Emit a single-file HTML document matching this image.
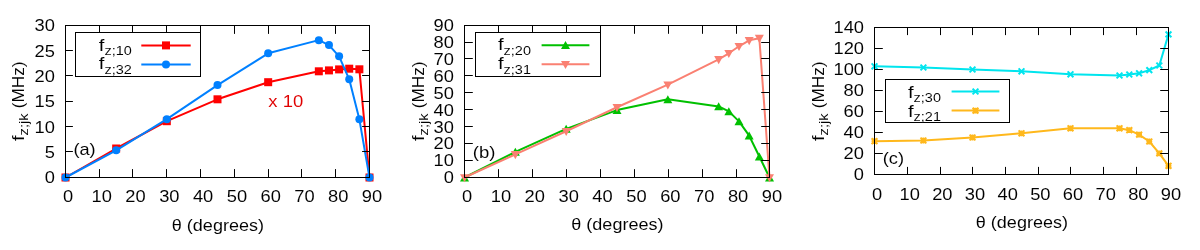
<!DOCTYPE html>
<html><head><meta charset="utf-8"><title>f_z,jk vs theta</title>
<style>
html,body{margin:0;padding:0;background:#fff;}
body{width:1200px;height:250px;overflow:hidden;}
svg{display:block;font-family:"Liberation Sans", sans-serif;will-change:transform;}
text{stroke:#fff;stroke-width:0.05px;}
</style></head>
<body>
<svg width="1200" height="250" viewBox="0 0 1200 250">
<rect width="1200" height="250" fill="#fff"/>
<text x="68.00" y="201.80" font-size="17.0" text-anchor="middle" textLength="10.18" lengthAdjust="spacingAndGlyphs" fill="#000">0</text>
<text x="101.78" y="201.80" font-size="17.0" text-anchor="middle" textLength="20.36" lengthAdjust="spacingAndGlyphs" fill="#000">10</text>
<text x="135.56" y="201.80" font-size="17.0" text-anchor="middle" textLength="20.36" lengthAdjust="spacingAndGlyphs" fill="#000">20</text>
<text x="169.33" y="201.80" font-size="17.0" text-anchor="middle" textLength="20.36" lengthAdjust="spacingAndGlyphs" fill="#000">30</text>
<text x="203.11" y="201.80" font-size="17.0" text-anchor="middle" textLength="20.36" lengthAdjust="spacingAndGlyphs" fill="#000">40</text>
<text x="236.89" y="201.80" font-size="17.0" text-anchor="middle" textLength="20.36" lengthAdjust="spacingAndGlyphs" fill="#000">50</text>
<text x="270.67" y="201.80" font-size="17.0" text-anchor="middle" textLength="20.36" lengthAdjust="spacingAndGlyphs" fill="#000">60</text>
<text x="304.44" y="201.80" font-size="17.0" text-anchor="middle" textLength="20.36" lengthAdjust="spacingAndGlyphs" fill="#000">70</text>
<text x="338.22" y="201.80" font-size="17.0" text-anchor="middle" textLength="20.36" lengthAdjust="spacingAndGlyphs" fill="#000">80</text>
<text x="372.00" y="201.80" font-size="17.0" text-anchor="middle" textLength="20.36" lengthAdjust="spacingAndGlyphs" fill="#000">90</text>
<text x="55.00" y="183.20" font-size="17.0" text-anchor="end" textLength="10.18" lengthAdjust="spacingAndGlyphs" fill="#000">0</text>
<text x="55.00" y="157.87" font-size="17.0" text-anchor="end" textLength="10.18" lengthAdjust="spacingAndGlyphs" fill="#000">5</text>
<text x="55.00" y="132.53" font-size="17.0" text-anchor="end" textLength="20.36" lengthAdjust="spacingAndGlyphs" fill="#000">10</text>
<text x="55.00" y="107.20" font-size="17.0" text-anchor="end" textLength="20.36" lengthAdjust="spacingAndGlyphs" fill="#000">15</text>
<text x="55.00" y="81.87" font-size="17.0" text-anchor="end" textLength="20.36" lengthAdjust="spacingAndGlyphs" fill="#000">20</text>
<text x="55.00" y="56.53" font-size="17.0" text-anchor="end" textLength="20.36" lengthAdjust="spacingAndGlyphs" fill="#000">25</text>
<text x="55.00" y="31.20" font-size="17.0" text-anchor="end" textLength="20.36" lengthAdjust="spacingAndGlyphs" fill="#000">30</text>
<text x="217.90" y="230.50" font-size="17.0" text-anchor="middle" textLength="92.12" lengthAdjust="spacingAndGlyphs" fill="#000">θ (degrees)</text>
<g transform="translate(23.6,141.0) rotate(-90)">
<text x="0.00" y="0.00" font-size="17.0" text-anchor="start" textLength="5.63" lengthAdjust="spacingAndGlyphs" fill="#000">f</text>
<text x="5.63" y="4.50" font-size="13.600000000000001" text-anchor="start" textLength="22.00" lengthAdjust="spacingAndGlyphs" fill="#000">z;jk</text>
<text x="32.72" y="0.00" font-size="17.0" text-anchor="start" textLength="46.72" lengthAdjust="spacingAndGlyphs" fill="#000">(MHz)</text>
</g>
<text x="73.40" y="154.90" font-size="17.0" text-anchor="start" textLength="22.29" lengthAdjust="spacingAndGlyphs" fill="#000">(a)</text>
<text x="467.00" y="201.80" font-size="17.0" text-anchor="middle" textLength="10.18" lengthAdjust="spacingAndGlyphs" fill="#000">0</text>
<text x="500.89" y="201.80" font-size="17.0" text-anchor="middle" textLength="20.36" lengthAdjust="spacingAndGlyphs" fill="#000">10</text>
<text x="534.78" y="201.80" font-size="17.0" text-anchor="middle" textLength="20.36" lengthAdjust="spacingAndGlyphs" fill="#000">20</text>
<text x="568.67" y="201.80" font-size="17.0" text-anchor="middle" textLength="20.36" lengthAdjust="spacingAndGlyphs" fill="#000">30</text>
<text x="602.56" y="201.80" font-size="17.0" text-anchor="middle" textLength="20.36" lengthAdjust="spacingAndGlyphs" fill="#000">40</text>
<text x="636.44" y="201.80" font-size="17.0" text-anchor="middle" textLength="20.36" lengthAdjust="spacingAndGlyphs" fill="#000">50</text>
<text x="670.33" y="201.80" font-size="17.0" text-anchor="middle" textLength="20.36" lengthAdjust="spacingAndGlyphs" fill="#000">60</text>
<text x="704.22" y="201.80" font-size="17.0" text-anchor="middle" textLength="20.36" lengthAdjust="spacingAndGlyphs" fill="#000">70</text>
<text x="738.11" y="201.80" font-size="17.0" text-anchor="middle" textLength="20.36" lengthAdjust="spacingAndGlyphs" fill="#000">80</text>
<text x="772.00" y="201.80" font-size="17.0" text-anchor="middle" textLength="20.36" lengthAdjust="spacingAndGlyphs" fill="#000">90</text>
<text x="454.00" y="183.20" font-size="17.0" text-anchor="end" textLength="10.18" lengthAdjust="spacingAndGlyphs" fill="#000">0</text>
<text x="454.00" y="166.31" font-size="17.0" text-anchor="end" textLength="20.36" lengthAdjust="spacingAndGlyphs" fill="#000">10</text>
<text x="454.00" y="149.42" font-size="17.0" text-anchor="end" textLength="20.36" lengthAdjust="spacingAndGlyphs" fill="#000">20</text>
<text x="454.00" y="132.53" font-size="17.0" text-anchor="end" textLength="20.36" lengthAdjust="spacingAndGlyphs" fill="#000">30</text>
<text x="454.00" y="115.64" font-size="17.0" text-anchor="end" textLength="20.36" lengthAdjust="spacingAndGlyphs" fill="#000">40</text>
<text x="454.00" y="98.76" font-size="17.0" text-anchor="end" textLength="20.36" lengthAdjust="spacingAndGlyphs" fill="#000">50</text>
<text x="454.00" y="81.87" font-size="17.0" text-anchor="end" textLength="20.36" lengthAdjust="spacingAndGlyphs" fill="#000">60</text>
<text x="454.00" y="64.98" font-size="17.0" text-anchor="end" textLength="20.36" lengthAdjust="spacingAndGlyphs" fill="#000">70</text>
<text x="454.00" y="48.09" font-size="17.0" text-anchor="end" textLength="20.36" lengthAdjust="spacingAndGlyphs" fill="#000">80</text>
<text x="454.00" y="31.20" font-size="17.0" text-anchor="end" textLength="20.36" lengthAdjust="spacingAndGlyphs" fill="#000">90</text>
<text x="617.40" y="230.40" font-size="17.0" text-anchor="middle" textLength="92.12" lengthAdjust="spacingAndGlyphs" fill="#000">θ (degrees)</text>
<g transform="translate(423.6,141.0) rotate(-90)">
<text x="0.00" y="0.00" font-size="17.0" text-anchor="start" textLength="5.63" lengthAdjust="spacingAndGlyphs" fill="#000">f</text>
<text x="5.63" y="4.50" font-size="13.600000000000001" text-anchor="start" textLength="22.00" lengthAdjust="spacingAndGlyphs" fill="#000">z;jk</text>
<text x="32.72" y="0.00" font-size="17.0" text-anchor="start" textLength="46.72" lengthAdjust="spacingAndGlyphs" fill="#000">(MHz)</text>
</g>
<text x="472.80" y="158.00" font-size="17.0" text-anchor="start" textLength="22.64" lengthAdjust="spacingAndGlyphs" fill="#000">(b)</text>
<text x="877.00" y="199.60" font-size="17.0" text-anchor="middle" textLength="10.18" lengthAdjust="spacingAndGlyphs" fill="#000">0</text>
<text x="909.67" y="199.60" font-size="17.0" text-anchor="middle" textLength="20.36" lengthAdjust="spacingAndGlyphs" fill="#000">10</text>
<text x="942.33" y="199.60" font-size="17.0" text-anchor="middle" textLength="20.36" lengthAdjust="spacingAndGlyphs" fill="#000">20</text>
<text x="975.00" y="199.60" font-size="17.0" text-anchor="middle" textLength="20.36" lengthAdjust="spacingAndGlyphs" fill="#000">30</text>
<text x="1007.67" y="199.60" font-size="17.0" text-anchor="middle" textLength="20.36" lengthAdjust="spacingAndGlyphs" fill="#000">40</text>
<text x="1040.33" y="199.60" font-size="17.0" text-anchor="middle" textLength="20.36" lengthAdjust="spacingAndGlyphs" fill="#000">50</text>
<text x="1073.00" y="199.60" font-size="17.0" text-anchor="middle" textLength="20.36" lengthAdjust="spacingAndGlyphs" fill="#000">60</text>
<text x="1105.67" y="199.60" font-size="17.0" text-anchor="middle" textLength="20.36" lengthAdjust="spacingAndGlyphs" fill="#000">70</text>
<text x="1138.33" y="199.60" font-size="17.0" text-anchor="middle" textLength="20.36" lengthAdjust="spacingAndGlyphs" fill="#000">80</text>
<text x="1171.00" y="199.60" font-size="17.0" text-anchor="middle" textLength="20.36" lengthAdjust="spacingAndGlyphs" fill="#000">90</text>
<text x="864.00" y="180.20" font-size="17.0" text-anchor="end" textLength="10.18" lengthAdjust="spacingAndGlyphs" fill="#000">0</text>
<text x="864.00" y="159.20" font-size="17.0" text-anchor="end" textLength="20.36" lengthAdjust="spacingAndGlyphs" fill="#000">20</text>
<text x="864.00" y="138.20" font-size="17.0" text-anchor="end" textLength="20.36" lengthAdjust="spacingAndGlyphs" fill="#000">40</text>
<text x="864.00" y="117.20" font-size="17.0" text-anchor="end" textLength="20.36" lengthAdjust="spacingAndGlyphs" fill="#000">60</text>
<text x="864.00" y="96.20" font-size="17.0" text-anchor="end" textLength="20.36" lengthAdjust="spacingAndGlyphs" fill="#000">80</text>
<text x="864.00" y="75.20" font-size="17.0" text-anchor="end" textLength="30.54" lengthAdjust="spacingAndGlyphs" fill="#000">100</text>
<text x="864.00" y="54.20" font-size="17.0" text-anchor="end" textLength="30.54" lengthAdjust="spacingAndGlyphs" fill="#000">120</text>
<text x="864.00" y="33.20" font-size="17.0" text-anchor="end" textLength="30.54" lengthAdjust="spacingAndGlyphs" fill="#000">140</text>
<text x="1021.90" y="227.60" font-size="17.0" text-anchor="middle" textLength="92.12" lengthAdjust="spacingAndGlyphs" fill="#000">θ (degrees)</text>
<g transform="translate(823.6,141.0) rotate(-90)">
<text x="0.00" y="0.00" font-size="17.0" text-anchor="start" textLength="5.63" lengthAdjust="spacingAndGlyphs" fill="#000">f</text>
<text x="5.63" y="4.50" font-size="13.600000000000001" text-anchor="start" textLength="22.00" lengthAdjust="spacingAndGlyphs" fill="#000">z;jk</text>
<text x="32.72" y="0.00" font-size="17.0" text-anchor="start" textLength="46.72" lengthAdjust="spacingAndGlyphs" fill="#000">(MHz)</text>
</g>
<text x="882.70" y="164.20" font-size="17.0" text-anchor="start" textLength="21.28" lengthAdjust="spacingAndGlyphs" fill="#000">(c)</text>
<polyline points="65.50,177.50 116.17,148.50 166.83,121.20 217.50,99.30 268.17,82.20 318.83,71.30 328.97,70.40 339.10,69.40 349.23,68.70 359.37,69.30 369.50,177.50" fill="none" stroke="#ff0000" stroke-width="2" stroke-linejoin="round"/>
<rect x="61.50" y="173.50" width="8" height="8" fill="#ff0000"/>
<rect x="112.17" y="144.50" width="8" height="8" fill="#ff0000"/>
<rect x="162.83" y="117.20" width="8" height="8" fill="#ff0000"/>
<rect x="213.50" y="95.30" width="8" height="8" fill="#ff0000"/>
<rect x="264.17" y="78.20" width="8" height="8" fill="#ff0000"/>
<rect x="314.83" y="67.30" width="8" height="8" fill="#ff0000"/>
<rect x="324.97" y="66.40" width="8" height="8" fill="#ff0000"/>
<rect x="335.10" y="65.40" width="8" height="8" fill="#ff0000"/>
<rect x="345.23" y="64.70" width="8" height="8" fill="#ff0000"/>
<rect x="355.37" y="65.30" width="8" height="8" fill="#ff0000"/>
<rect x="365.50" y="173.50" width="8" height="8" fill="#ff0000"/>
<polyline points="65.50,177.50 116.17,150.30 166.83,119.20 217.50,85.10 268.17,53.30 318.83,40.15 328.97,45.06 339.10,56.30 349.23,79.30 359.37,119.30 369.50,177.50" fill="none" stroke="#0080ff" stroke-width="2" stroke-linejoin="round"/>
<circle cx="65.50" cy="177.50" r="4" fill="#0080ff"/>
<circle cx="116.17" cy="150.30" r="4" fill="#0080ff"/>
<circle cx="166.83" cy="119.20" r="4" fill="#0080ff"/>
<circle cx="217.50" cy="85.10" r="4" fill="#0080ff"/>
<circle cx="268.17" cy="53.30" r="4" fill="#0080ff"/>
<circle cx="318.83" cy="40.15" r="4" fill="#0080ff"/>
<circle cx="328.97" cy="45.06" r="4" fill="#0080ff"/>
<circle cx="339.10" cy="56.30" r="4" fill="#0080ff"/>
<circle cx="349.23" cy="79.30" r="4" fill="#0080ff"/>
<circle cx="359.37" cy="119.30" r="4" fill="#0080ff"/>
<circle cx="369.50" cy="177.50" r="4" fill="#0080ff"/>
<polyline points="464.50,177.50 515.33,151.90 566.17,128.85 617.00,110.10 667.83,99.30 718.67,106.45 728.83,111.35 739.00,121.35 749.17,135.70 759.33,156.50 769.50,177.50" fill="none" stroke="#00c000" stroke-width="2" stroke-linejoin="round"/>
<path d="M464.50,173.40 L469.00,181.40 L460.00,181.40 Z" fill="#00c000"/>
<path d="M515.33,147.80 L519.83,155.80 L510.83,155.80 Z" fill="#00c000"/>
<path d="M566.17,124.75 L570.67,132.75 L561.67,132.75 Z" fill="#00c000"/>
<path d="M617.00,106.00 L621.50,114.00 L612.50,114.00 Z" fill="#00c000"/>
<path d="M667.83,95.20 L672.33,103.20 L663.33,103.20 Z" fill="#00c000"/>
<path d="M718.67,102.35 L723.17,110.35 L714.17,110.35 Z" fill="#00c000"/>
<path d="M728.83,107.25 L733.33,115.25 L724.33,115.25 Z" fill="#00c000"/>
<path d="M739.00,117.25 L743.50,125.25 L734.50,125.25 Z" fill="#00c000"/>
<path d="M749.17,131.60 L753.67,139.60 L744.67,139.60 Z" fill="#00c000"/>
<path d="M759.33,152.40 L763.83,160.40 L754.83,160.40 Z" fill="#00c000"/>
<path d="M769.50,173.40 L774.00,181.40 L765.00,181.40 Z" fill="#00c000"/>
<polyline points="464.50,177.50 515.33,154.35 566.17,131.25 617.00,107.25 667.83,84.70 718.67,59.40 728.83,53.30 739.00,46.30 749.17,40.35 759.33,38.15 769.50,177.50" fill="none" stroke="#fa8072" stroke-width="2" stroke-linejoin="round"/>
<path d="M464.50,182.30 L469.00,174.20 L460.00,174.20 Z" fill="#fa8072"/>
<path d="M515.33,159.15 L519.83,151.05 L510.83,151.05 Z" fill="#fa8072"/>
<path d="M566.17,136.05 L570.67,127.95 L561.67,127.95 Z" fill="#fa8072"/>
<path d="M617.00,112.05 L621.50,103.95 L612.50,103.95 Z" fill="#fa8072"/>
<path d="M667.83,89.50 L672.33,81.40 L663.33,81.40 Z" fill="#fa8072"/>
<path d="M718.67,64.20 L723.17,56.10 L714.17,56.10 Z" fill="#fa8072"/>
<path d="M728.83,58.10 L733.33,50.00 L724.33,50.00 Z" fill="#fa8072"/>
<path d="M739.00,51.10 L743.50,43.00 L734.50,43.00 Z" fill="#fa8072"/>
<path d="M749.17,45.15 L753.67,37.05 L744.67,37.05 Z" fill="#fa8072"/>
<path d="M759.33,42.95 L763.83,34.85 L754.83,34.85 Z" fill="#fa8072"/>
<path d="M769.50,182.30 L774.00,174.20 L765.00,174.20 Z" fill="#fa8072"/>
<polyline points="874.50,66.30 923.40,67.50 972.50,69.50 1021.50,71.30 1070.50,74.30 1119.50,75.50 1129.30,74.50 1139.10,73.30 1149.30,70.10 1159.30,65.50 1168.50,34.40" fill="none" stroke="#00e5ee" stroke-width="2" stroke-linejoin="round"/>
<path d="M871.60,63.40 L877.40,69.20 M871.60,69.20 L877.40,63.40" stroke="#00e5ee" stroke-width="2" fill="none"/>
<path d="M920.50,64.60 L926.30,70.40 M920.50,70.40 L926.30,64.60" stroke="#00e5ee" stroke-width="2" fill="none"/>
<path d="M969.60,66.60 L975.40,72.40 M969.60,72.40 L975.40,66.60" stroke="#00e5ee" stroke-width="2" fill="none"/>
<path d="M1018.60,68.40 L1024.40,74.20 M1018.60,74.20 L1024.40,68.40" stroke="#00e5ee" stroke-width="2" fill="none"/>
<path d="M1067.60,71.40 L1073.40,77.20 M1067.60,77.20 L1073.40,71.40" stroke="#00e5ee" stroke-width="2" fill="none"/>
<path d="M1116.60,72.60 L1122.40,78.40 M1116.60,78.40 L1122.40,72.60" stroke="#00e5ee" stroke-width="2" fill="none"/>
<path d="M1126.40,71.60 L1132.20,77.40 M1126.40,77.40 L1132.20,71.60" stroke="#00e5ee" stroke-width="2" fill="none"/>
<path d="M1136.20,70.40 L1142.00,76.20 M1136.20,76.20 L1142.00,70.40" stroke="#00e5ee" stroke-width="2" fill="none"/>
<path d="M1146.40,67.20 L1152.20,73.00 M1146.40,73.00 L1152.20,67.20" stroke="#00e5ee" stroke-width="2" fill="none"/>
<path d="M1156.40,62.60 L1162.20,68.40 M1156.40,68.40 L1162.20,62.60" stroke="#00e5ee" stroke-width="2" fill="none"/>
<path d="M1165.60,31.50 L1171.40,37.30 M1165.60,37.30 L1171.40,31.50" stroke="#00e5ee" stroke-width="2" fill="none"/>
<polyline points="874.50,141.20 923.40,140.50 972.50,137.50 1021.50,133.30 1070.50,128.30 1119.50,128.30 1129.30,130.20 1139.10,134.60 1149.30,141.50 1159.30,153.40 1168.50,165.80" fill="none" stroke="#ffb81c" stroke-width="2" stroke-linejoin="round"/>
<path d="M871.60,138.30 L877.40,144.10 M871.60,144.10 L877.40,138.30 M871.60,141.20 L877.40,141.20 M874.50,138.30 L874.50,144.10" stroke="#ffb81c" stroke-width="2" fill="none"/>
<path d="M920.50,137.60 L926.30,143.40 M920.50,143.40 L926.30,137.60 M920.50,140.50 L926.30,140.50 M923.40,137.60 L923.40,143.40" stroke="#ffb81c" stroke-width="2" fill="none"/>
<path d="M969.60,134.60 L975.40,140.40 M969.60,140.40 L975.40,134.60 M969.60,137.50 L975.40,137.50 M972.50,134.60 L972.50,140.40" stroke="#ffb81c" stroke-width="2" fill="none"/>
<path d="M1018.60,130.40 L1024.40,136.20 M1018.60,136.20 L1024.40,130.40 M1018.60,133.30 L1024.40,133.30 M1021.50,130.40 L1021.50,136.20" stroke="#ffb81c" stroke-width="2" fill="none"/>
<path d="M1067.60,125.40 L1073.40,131.20 M1067.60,131.20 L1073.40,125.40 M1067.60,128.30 L1073.40,128.30 M1070.50,125.40 L1070.50,131.20" stroke="#ffb81c" stroke-width="2" fill="none"/>
<path d="M1116.60,125.40 L1122.40,131.20 M1116.60,131.20 L1122.40,125.40 M1116.60,128.30 L1122.40,128.30 M1119.50,125.40 L1119.50,131.20" stroke="#ffb81c" stroke-width="2" fill="none"/>
<path d="M1126.40,127.30 L1132.20,133.10 M1126.40,133.10 L1132.20,127.30 M1126.40,130.20 L1132.20,130.20 M1129.30,127.30 L1129.30,133.10" stroke="#ffb81c" stroke-width="2" fill="none"/>
<path d="M1136.20,131.70 L1142.00,137.50 M1136.20,137.50 L1142.00,131.70 M1136.20,134.60 L1142.00,134.60 M1139.10,131.70 L1139.10,137.50" stroke="#ffb81c" stroke-width="2" fill="none"/>
<path d="M1146.40,138.60 L1152.20,144.40 M1146.40,144.40 L1152.20,138.60 M1146.40,141.50 L1152.20,141.50 M1149.30,138.60 L1149.30,144.40" stroke="#ffb81c" stroke-width="2" fill="none"/>
<path d="M1156.40,150.50 L1162.20,156.30 M1156.40,156.30 L1162.20,150.50 M1156.40,153.40 L1162.20,153.40 M1159.30,150.50 L1159.30,156.30" stroke="#ffb81c" stroke-width="2" fill="none"/>
<path d="M1165.60,162.90 L1171.40,168.70 M1165.60,168.70 L1171.40,162.90 M1165.60,165.80 L1171.40,165.80 M1168.50,162.90 L1168.50,168.70" stroke="#ffb81c" stroke-width="2" fill="none"/>
<text x="268.30" y="106.50" font-size="17.0" text-anchor="start" textLength="34.91" lengthAdjust="spacingAndGlyphs" fill="#e00000">x 10</text>
<line x1="99.50" y1="177.50" x2="99.50" y2="169.10" stroke="#000" stroke-width="1"/>
<line x1="99.50" y1="25.50" x2="99.50" y2="33.90" stroke="#000" stroke-width="1"/>
<line x1="132.50" y1="177.50" x2="132.50" y2="169.10" stroke="#000" stroke-width="1"/>
<line x1="132.50" y1="25.50" x2="132.50" y2="33.90" stroke="#000" stroke-width="1"/>
<line x1="166.50" y1="177.50" x2="166.50" y2="169.10" stroke="#000" stroke-width="1"/>
<line x1="166.50" y1="25.50" x2="166.50" y2="33.90" stroke="#000" stroke-width="1"/>
<line x1="200.50" y1="177.50" x2="200.50" y2="169.10" stroke="#000" stroke-width="1"/>
<line x1="200.50" y1="25.50" x2="200.50" y2="33.90" stroke="#000" stroke-width="1"/>
<line x1="234.50" y1="177.50" x2="234.50" y2="169.10" stroke="#000" stroke-width="1"/>
<line x1="234.50" y1="25.50" x2="234.50" y2="33.90" stroke="#000" stroke-width="1"/>
<line x1="268.50" y1="177.50" x2="268.50" y2="169.10" stroke="#000" stroke-width="1"/>
<line x1="268.50" y1="25.50" x2="268.50" y2="33.90" stroke="#000" stroke-width="1"/>
<line x1="301.50" y1="177.50" x2="301.50" y2="169.10" stroke="#000" stroke-width="1"/>
<line x1="301.50" y1="25.50" x2="301.50" y2="33.90" stroke="#000" stroke-width="1"/>
<line x1="335.50" y1="177.50" x2="335.50" y2="169.10" stroke="#000" stroke-width="1"/>
<line x1="335.50" y1="25.50" x2="335.50" y2="33.90" stroke="#000" stroke-width="1"/>
<line x1="65.50" y1="151.50" x2="72.90" y2="151.50" stroke="#000" stroke-width="1"/>
<line x1="369.50" y1="151.50" x2="362.10" y2="151.50" stroke="#000" stroke-width="1"/>
<line x1="65.50" y1="126.50" x2="72.90" y2="126.50" stroke="#000" stroke-width="1"/>
<line x1="369.50" y1="126.50" x2="362.10" y2="126.50" stroke="#000" stroke-width="1"/>
<line x1="65.50" y1="101.50" x2="72.90" y2="101.50" stroke="#000" stroke-width="1"/>
<line x1="369.50" y1="101.50" x2="362.10" y2="101.50" stroke="#000" stroke-width="1"/>
<line x1="65.50" y1="75.50" x2="72.90" y2="75.50" stroke="#000" stroke-width="1"/>
<line x1="369.50" y1="75.50" x2="362.10" y2="75.50" stroke="#000" stroke-width="1"/>
<line x1="65.50" y1="50.50" x2="72.90" y2="50.50" stroke="#000" stroke-width="1"/>
<line x1="369.50" y1="50.50" x2="362.10" y2="50.50" stroke="#000" stroke-width="1"/>
<rect x="65.5" y="25.5" width="304.0" height="152.0" fill="none" stroke="#000" stroke-width="1"/>
<line x1="498.50" y1="177.50" x2="498.50" y2="169.20" stroke="#000" stroke-width="1"/>
<line x1="498.50" y1="25.50" x2="498.50" y2="33.80" stroke="#000" stroke-width="1"/>
<line x1="532.50" y1="177.50" x2="532.50" y2="169.20" stroke="#000" stroke-width="1"/>
<line x1="532.50" y1="25.50" x2="532.50" y2="33.80" stroke="#000" stroke-width="1"/>
<line x1="566.50" y1="177.50" x2="566.50" y2="169.20" stroke="#000" stroke-width="1"/>
<line x1="566.50" y1="25.50" x2="566.50" y2="33.80" stroke="#000" stroke-width="1"/>
<line x1="600.50" y1="177.50" x2="600.50" y2="169.20" stroke="#000" stroke-width="1"/>
<line x1="600.50" y1="25.50" x2="600.50" y2="33.80" stroke="#000" stroke-width="1"/>
<line x1="634.50" y1="177.50" x2="634.50" y2="169.20" stroke="#000" stroke-width="1"/>
<line x1="634.50" y1="25.50" x2="634.50" y2="33.80" stroke="#000" stroke-width="1"/>
<line x1="668.50" y1="177.50" x2="668.50" y2="169.20" stroke="#000" stroke-width="1"/>
<line x1="668.50" y1="25.50" x2="668.50" y2="33.80" stroke="#000" stroke-width="1"/>
<line x1="702.50" y1="177.50" x2="702.50" y2="169.20" stroke="#000" stroke-width="1"/>
<line x1="702.50" y1="25.50" x2="702.50" y2="33.80" stroke="#000" stroke-width="1"/>
<line x1="736.50" y1="177.50" x2="736.50" y2="169.20" stroke="#000" stroke-width="1"/>
<line x1="736.50" y1="25.50" x2="736.50" y2="33.80" stroke="#000" stroke-width="1"/>
<line x1="464.50" y1="160.50" x2="472.80" y2="160.50" stroke="#000" stroke-width="1"/>
<line x1="769.50" y1="160.50" x2="761.20" y2="160.50" stroke="#000" stroke-width="1"/>
<line x1="464.50" y1="143.50" x2="472.80" y2="143.50" stroke="#000" stroke-width="1"/>
<line x1="769.50" y1="143.50" x2="761.20" y2="143.50" stroke="#000" stroke-width="1"/>
<line x1="464.50" y1="126.50" x2="472.80" y2="126.50" stroke="#000" stroke-width="1"/>
<line x1="769.50" y1="126.50" x2="761.20" y2="126.50" stroke="#000" stroke-width="1"/>
<line x1="464.50" y1="109.50" x2="472.80" y2="109.50" stroke="#000" stroke-width="1"/>
<line x1="769.50" y1="109.50" x2="761.20" y2="109.50" stroke="#000" stroke-width="1"/>
<line x1="464.50" y1="92.50" x2="472.80" y2="92.50" stroke="#000" stroke-width="1"/>
<line x1="769.50" y1="92.50" x2="761.20" y2="92.50" stroke="#000" stroke-width="1"/>
<line x1="464.50" y1="75.50" x2="472.80" y2="75.50" stroke="#000" stroke-width="1"/>
<line x1="769.50" y1="75.50" x2="761.20" y2="75.50" stroke="#000" stroke-width="1"/>
<line x1="464.50" y1="58.50" x2="472.80" y2="58.50" stroke="#000" stroke-width="1"/>
<line x1="769.50" y1="58.50" x2="761.20" y2="58.50" stroke="#000" stroke-width="1"/>
<line x1="464.50" y1="42.50" x2="472.80" y2="42.50" stroke="#000" stroke-width="1"/>
<line x1="769.50" y1="42.50" x2="761.20" y2="42.50" stroke="#000" stroke-width="1"/>
<rect x="464.5" y="25.5" width="305.0" height="152.0" fill="none" stroke="#000" stroke-width="1"/>
<line x1="907.50" y1="174.50" x2="907.50" y2="166.90" stroke="#000" stroke-width="1"/>
<line x1="907.50" y1="27.50" x2="907.50" y2="35.10" stroke="#000" stroke-width="1"/>
<line x1="940.50" y1="174.50" x2="940.50" y2="166.90" stroke="#000" stroke-width="1"/>
<line x1="940.50" y1="27.50" x2="940.50" y2="35.10" stroke="#000" stroke-width="1"/>
<line x1="972.50" y1="174.50" x2="972.50" y2="166.90" stroke="#000" stroke-width="1"/>
<line x1="972.50" y1="27.50" x2="972.50" y2="35.10" stroke="#000" stroke-width="1"/>
<line x1="1005.50" y1="174.50" x2="1005.50" y2="166.90" stroke="#000" stroke-width="1"/>
<line x1="1005.50" y1="27.50" x2="1005.50" y2="35.10" stroke="#000" stroke-width="1"/>
<line x1="1038.50" y1="174.50" x2="1038.50" y2="166.90" stroke="#000" stroke-width="1"/>
<line x1="1038.50" y1="27.50" x2="1038.50" y2="35.10" stroke="#000" stroke-width="1"/>
<line x1="1070.50" y1="174.50" x2="1070.50" y2="166.90" stroke="#000" stroke-width="1"/>
<line x1="1070.50" y1="27.50" x2="1070.50" y2="35.10" stroke="#000" stroke-width="1"/>
<line x1="1103.50" y1="174.50" x2="1103.50" y2="166.90" stroke="#000" stroke-width="1"/>
<line x1="1103.50" y1="27.50" x2="1103.50" y2="35.10" stroke="#000" stroke-width="1"/>
<line x1="1136.50" y1="174.50" x2="1136.50" y2="166.90" stroke="#000" stroke-width="1"/>
<line x1="1136.50" y1="27.50" x2="1136.50" y2="35.10" stroke="#000" stroke-width="1"/>
<line x1="874.50" y1="153.50" x2="882.80" y2="153.50" stroke="#000" stroke-width="1"/>
<line x1="1168.50" y1="153.50" x2="1160.20" y2="153.50" stroke="#000" stroke-width="1"/>
<line x1="874.50" y1="132.50" x2="882.80" y2="132.50" stroke="#000" stroke-width="1"/>
<line x1="1168.50" y1="132.50" x2="1160.20" y2="132.50" stroke="#000" stroke-width="1"/>
<line x1="874.50" y1="111.50" x2="882.80" y2="111.50" stroke="#000" stroke-width="1"/>
<line x1="1168.50" y1="111.50" x2="1160.20" y2="111.50" stroke="#000" stroke-width="1"/>
<line x1="874.50" y1="90.50" x2="882.80" y2="90.50" stroke="#000" stroke-width="1"/>
<line x1="1168.50" y1="90.50" x2="1160.20" y2="90.50" stroke="#000" stroke-width="1"/>
<line x1="874.50" y1="69.50" x2="882.80" y2="69.50" stroke="#000" stroke-width="1"/>
<line x1="1168.50" y1="69.50" x2="1160.20" y2="69.50" stroke="#000" stroke-width="1"/>
<line x1="874.50" y1="48.50" x2="882.80" y2="48.50" stroke="#000" stroke-width="1"/>
<line x1="1168.50" y1="48.50" x2="1160.20" y2="48.50" stroke="#000" stroke-width="1"/>
<rect x="874.5" y="27.5" width="294.0" height="147.0" fill="none" stroke="#000" stroke-width="1"/>
<rect x="75.5" y="32.5" width="125.0" height="44.0" fill="#fff" stroke="#000" stroke-width="1"/>
<text x="98.80" y="50.50" font-size="17.0" text-anchor="start" textLength="5.63" lengthAdjust="spacingAndGlyphs" fill="#000">f</text>
<text x="104.43" y="55.00" font-size="13.600000000000001" text-anchor="start" textLength="27.32" lengthAdjust="spacingAndGlyphs" fill="#000">z;10</text>
<text x="98.80" y="69.40" font-size="17.0" text-anchor="start" textLength="5.63" lengthAdjust="spacingAndGlyphs" fill="#000">f</text>
<text x="104.43" y="73.90" font-size="13.600000000000001" text-anchor="start" textLength="27.32" lengthAdjust="spacingAndGlyphs" fill="#000">z;32</text>
<rect x="475.5" y="32.5" width="125.0" height="44.0" fill="#fff" stroke="#000" stroke-width="1"/>
<text x="498.00" y="50.40" font-size="17.0" text-anchor="start" textLength="5.63" lengthAdjust="spacingAndGlyphs" fill="#000">f</text>
<text x="503.63" y="54.90" font-size="13.600000000000001" text-anchor="start" textLength="27.32" lengthAdjust="spacingAndGlyphs" fill="#000">z;20</text>
<text x="498.00" y="69.40" font-size="17.0" text-anchor="start" textLength="5.63" lengthAdjust="spacingAndGlyphs" fill="#000">f</text>
<text x="503.63" y="73.90" font-size="13.600000000000001" text-anchor="start" textLength="27.32" lengthAdjust="spacingAndGlyphs" fill="#000">z;31</text>
<rect x="885.5" y="79.5" width="124.0" height="43.0" fill="#fff" stroke="#000" stroke-width="1"/>
<text x="908.00" y="97.60" font-size="17.0" text-anchor="start" textLength="5.63" lengthAdjust="spacingAndGlyphs" fill="#000">f</text>
<text x="913.63" y="102.10" font-size="13.600000000000001" text-anchor="start" textLength="27.32" lengthAdjust="spacingAndGlyphs" fill="#000">z;30</text>
<text x="908.00" y="116.60" font-size="17.0" text-anchor="start" textLength="5.63" lengthAdjust="spacingAndGlyphs" fill="#000">f</text>
<text x="913.63" y="121.10" font-size="13.600000000000001" text-anchor="start" textLength="27.32" lengthAdjust="spacingAndGlyphs" fill="#000">z;21</text>
<line x1="141.30" y1="45.40" x2="190.70" y2="45.40" stroke="#ff0000" stroke-width="2"/>
<rect x="162.00" y="41.40" width="8" height="8" fill="#ff0000"/>
<line x1="141.30" y1="64.40" x2="190.70" y2="64.40" stroke="#0080ff" stroke-width="2"/>
<circle cx="166.00" cy="64.40" r="4" fill="#0080ff"/>
<line x1="541.60" y1="45.20" x2="589.40" y2="45.20" stroke="#00c000" stroke-width="2"/>
<path d="M565.50,41.10 L570.00,49.10 L561.00,49.10 Z" fill="#00c000"/>
<line x1="541.60" y1="64.30" x2="589.40" y2="64.30" stroke="#fa8072" stroke-width="2"/>
<path d="M565.50,69.10 L570.00,61.00 L561.00,61.00 Z" fill="#fa8072"/>
<line x1="951.60" y1="91.50" x2="999.40" y2="91.50" stroke="#00e5ee" stroke-width="2"/>
<path d="M972.60,88.60 L978.40,94.40 M972.60,94.40 L978.40,88.60" stroke="#00e5ee" stroke-width="2" fill="none"/>
<line x1="951.60" y1="110.60" x2="999.40" y2="110.60" stroke="#ffb81c" stroke-width="2"/>
<path d="M972.60,107.70 L978.40,113.50 M972.60,113.50 L978.40,107.70 M972.60,110.60 L978.40,110.60 M975.50,107.70 L975.50,113.50" stroke="#ffb81c" stroke-width="2" fill="none"/>
</svg>
</body></html>
